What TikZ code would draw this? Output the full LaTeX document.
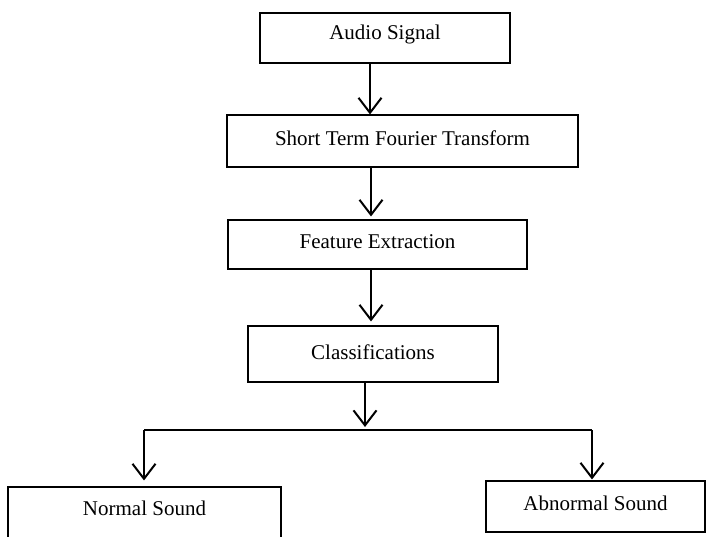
\documentclass[tikz,border=0pt]{standalone}
\usepackage{fontspec}
\setmainfont{Liberation Serif}
\usetikzlibrary{arrows.meta}
\begin{document}
\begin{tikzpicture}[x=1pt,y=-1pt,
  box/.style={draw=black,line width=1.1pt,rectangle,inner sep=0pt,font=\fontsize{21}{25}\selectfont},
  arr/.style={line width=2pt,-{Straight Barb[length=15pt,width=23pt,line width=2pt]}},
  bar/.style={line width=2pt}]
\clip (0,0) rectangle (706,537);
\node[box,minimum width=250pt,minimum height=50pt] (audio) at (385,38) {\raisebox{4pt}[\height][\depth]{Audio Signal}};
\node[box,minimum width=351pt,minimum height=52pt] (stft) at (402.5,141) {\raisebox{3pt}[\height][\depth]{Short Term Fourier Transform}};
\node[box,minimum width=299pt,minimum height=49pt] (feat) at (377.5,244.5) {\raisebox{3pt}[\height][\depth]{Feature Extraction}};
\node[box,minimum width=250pt,minimum height=56pt] (class) at (373,354) {\raisebox{2pt}[\height][\depth]{Classifications}};
\node[box,minimum width=273pt,minimum height=60pt] (normal) at (144.5,517) {\raisebox{9pt}[\height][\depth]{Normal Sound}};
\node[box,minimum width=219pt,minimum height=51pt] (abnormal) at (595.5,506.5) {\raisebox{3pt}[\height][\depth]{Abnormal Sound}};
\coordinate (x1) at (370,0);
\coordinate (x2) at (371,0);
\coordinate (L) at (144,430);
\coordinate (J) at (365,430);
\coordinate (R) at (592,430);
\draw[arr] (audio.south -| x1) -- (stft.north -| x1);
\draw[arr,shorten >=3pt] (stft.south -| x2) -- (feat.north -| x2);
\draw[arr,shorten >=4pt] (feat.south -| x2) -- (class.north -| x2);
\draw[arr,shorten >=3pt] (class.south -| J) -- (J);
\draw[bar] (L) -- (R);
\draw[arr,shorten >=6pt] (L) -- (normal.north -| L);
\draw[arr,shorten >=1pt] (R) -- (abnormal.north -| R);
\end{tikzpicture}
\end{document}
